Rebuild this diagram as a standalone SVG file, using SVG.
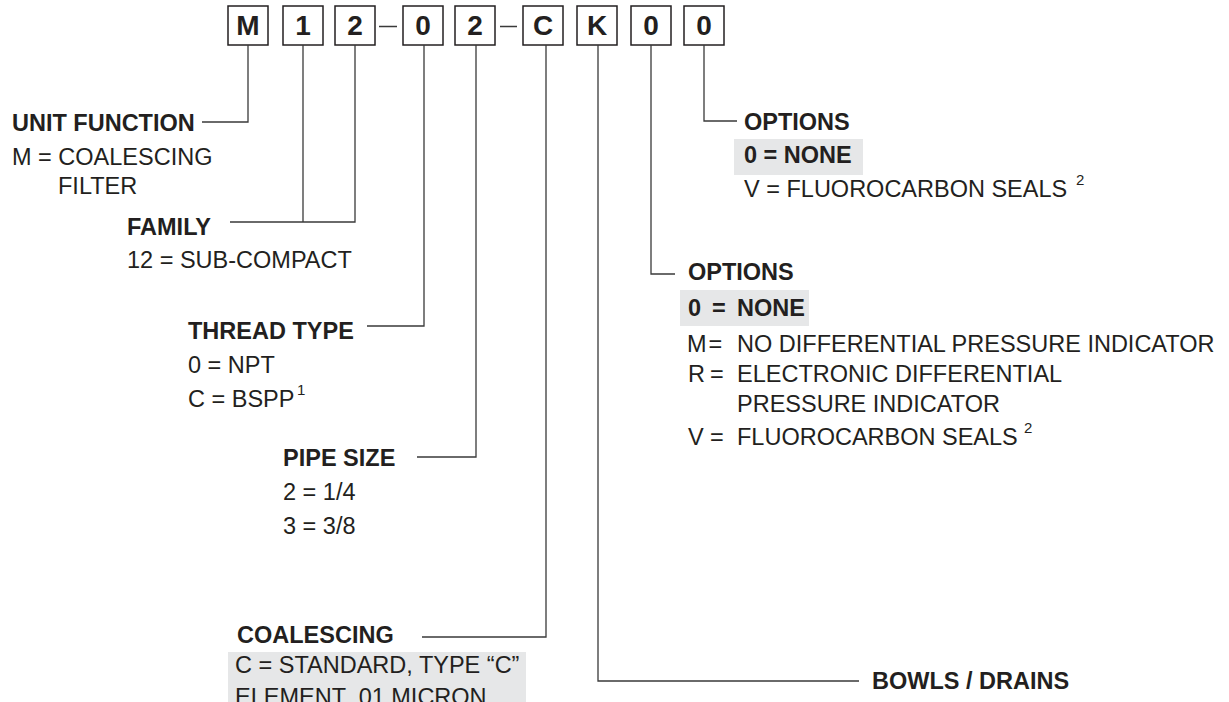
<svg xmlns="http://www.w3.org/2000/svg" width="1229" height="702" viewBox="0 0 1229 702">
  <style>
    text { font-family: "Liberation Sans", Arial, Helvetica, sans-serif; fill: #231f20; }
    .h { font-size: 23.5px; font-weight: bold; }
    .t { font-size: 23.5px; }
    .sup { font-size: 15px; }
    .code { font-size: 28px; font-weight: bold; text-anchor: middle; }
    .box { fill: #ffffff; stroke: #231f20; stroke-width: 1.5; }
    .hl { fill: #e6e7e8; }
    .lead { fill: none; stroke: #3a3a3a; stroke-width: 1.3; }
  </style>

  <rect width="1229" height="702" fill="#ffffff"/>

  <!-- code character boxes -->
  <g id="code">
    <g id="c-m"><rect class="box" x="228" y="6" width="40" height="39"/><text class="code" x="248" y="35">M</text></g>
    <g id="c-1"><rect class="box" x="283" y="6" width="40" height="39"/><text class="code" x="303" y="35">1</text></g>
    <g id="c-2"><rect class="box" x="335" y="6" width="40" height="39"/><text class="code" x="355" y="35">2</text></g>
    <g id="c-0"><rect class="box" x="403" y="6" width="40" height="39"/><text class="code" x="423" y="35">0</text></g>
    <g id="c-2b"><rect class="box" x="455" y="6" width="40" height="39"/><text class="code" x="475" y="35">2</text></g>
    <g id="c-c"><rect class="box" x="523" y="6" width="40" height="39"/><text class="code" x="543" y="35">C</text></g>
    <g id="c-k"><rect class="box" x="577" y="6" width="40" height="39"/><text class="code" x="597" y="35">K</text></g>
    <g id="c-0b"><rect class="box" x="631" y="6" width="40" height="39"/><text class="code" x="651" y="35">0</text></g>
    <g id="c-0c"><rect class="box" x="684" y="6" width="40" height="39"/><text class="code" x="704" y="35">0</text></g>
    <!-- separators -->
    <path class="lead" d="M379,26.5 H397 M500,26.5 H517"/>
  </g>

  <!-- leader lines -->
  <g id="connectors">
    <path class="lead" d="M248,45 V122 H202"/>
    <path class="lead" d="M303,45 V222"/>
    <path class="lead" d="M355,45 V222 H230"/>
    <path class="lead" d="M424,45 V326 H367"/>
    <path class="lead" d="M476,45 V457 H417"/>
    <path class="lead" d="M546,45 V637 H422"/>
    <path class="lead" d="M598,45 V681 H859"/>
    <path class="lead" d="M651,45 V274 H675"/>
    <path class="lead" d="M704,45 V121 H737"/>
  </g>

  <g id="unit-function">
    <text class="h" x="12" y="131">UNIT FUNCTION</text>
    <text class="t" x="12" y="165">M = COALESCING</text>
    <text class="t" x="58" y="194">FILTER</text>
  </g>

  <g id="family">
    <text class="h" x="127" y="235">FAMILY</text>
    <text class="t" x="127" y="268">12 = SUB-COMPACT</text>
  </g>

  <g id="thread-type">
    <text class="h" x="188" y="339">THREAD TYPE</text>
    <text class="t" x="188" y="373">0 = NPT</text>
    <text class="t" x="188" y="407">C = BSPP</text>
    <text class="sup" x="297" y="395">1</text>
  </g>

  <g id="pipe-size">
    <text class="h" x="283" y="466">PIPE SIZE</text>
    <text class="t" x="283" y="500">2 = 1/4</text>
    <text class="t" x="283" y="534">3 = 3/8</text>
  </g>

  <g id="coalescing">
    <text class="h" x="237" y="643">COALESCING</text>
    <rect class="hl" x="228" y="652" width="298" height="52"/>
    <text class="t" x="235" y="673">C = STANDARD, TYPE “C”</text>
    <!-- second line runs off the bottom edge -->
    <text class="t" x="235" y="705">ELEMENT .01 MICRON</text>
  </g>

  <g id="bowls-drains">
    <text class="h" x="872" y="689">BOWLS / DRAINS</text>
  </g>

  <g id="options-a">
    <text class="h" x="688" y="280">OPTIONS</text>
    <rect class="hl" x="680" y="290" width="129" height="36"/>
    <text class="h" x="688" y="316">0</text>
    <text class="h" x="712" y="316">=</text>
    <text class="h" x="737" y="316">NONE</text>
    <text class="t" x="687" y="352">M</text>
    <text class="t" x="708.5" y="352">=</text>
    <text class="t" x="737" y="352">NO DIFFERENTIAL PRESSURE INDICATOR</text>
    <text class="t" x="688" y="382">R</text>
    <text class="t" x="710" y="382">=</text>
    <text class="t" x="737" y="382">ELECTRONIC DIFFERENTIAL</text>
    <text class="t" x="737" y="412">PRESSURE INDICATOR</text>
    <text class="t" x="688" y="445">V</text>
    <text class="t" x="710" y="445">=</text>
    <text class="t" x="737" y="445">FLUOROCARBON SEALS</text>
    <text class="sup" x="1024" y="433">2</text>
  </g>

  <g id="options-b">
    <text class="h" x="744" y="130">OPTIONS</text>
    <rect class="hl" x="734" y="139" width="129" height="36"/>
    <text class="h" x="744" y="163">0 = NONE</text>
    <text class="t" x="744" y="197">V = FLUOROCARBON SEALS</text>
    <text class="sup" x="1076" y="185">2</text>
  </g>
</svg>
